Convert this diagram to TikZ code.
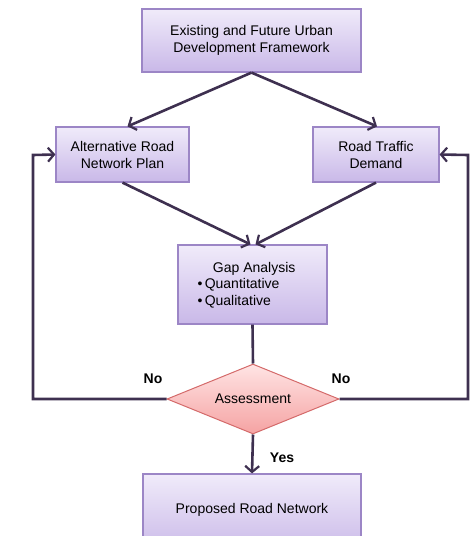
\documentclass[tikz,border=0pt]{standalone}
\usepackage{fontspec}
\setmainfont{Liberation Sans}
\usetikzlibrary{shapes.geometric,arrows.meta}
\definecolor{boxtop}{HTML}{F0EBFA}
\definecolor{boxbot}{HTML}{C9B8E8}
\definecolor{boxedge}{HTML}{9C86C6}
\definecolor{dtop}{HTML}{FFE4E4}
\definecolor{dbot}{HTML}{F5A3A3}
\definecolor{dedge}{HTML}{D46A6A}
\definecolor{flow}{HTML}{3E3050}
\tikzset{
  procbox/.style={draw=boxedge, line width=1.2pt, top color=boxtop, bottom color=boxbot,
    inner sep=0pt, align=center, font=\fontsize{14}{17}\selectfont},
  decision/.style={diamond, draw=dedge, line width=1pt, top color=dtop, bottom color=dbot,
    inner sep=0pt, aspect=2.46, font=\fontsize{14}{17}\selectfont},
  link/.style={draw=flow, line width=2.6pt, -{Straight Barb[length=6pt,width=14pt,line width=2.2pt]}},
  plainlink/.style={draw=flow, line width=2.6pt},
  answer/.style={font=\fontsize{14}{17}\bfseries\selectfont}
}
\begin{document}
\begin{tikzpicture}[x=1pt,y=-1pt]
\useasboundingbox (0,0) rectangle (471,536);
% process boxes
\node[procbox, minimum width=219, minimum height=63] (frame) at (251.5,40.5)
  {Existing and Future Urban\\Development Framework};
\node[procbox, minimum width=133, minimum height=55] (alt) at (122.5,154.5)
  {Alternative Road\\Network Plan};
\node[procbox, minimum width=126, minimum height=55] (demand) at (376,154.5)
  {Road Traffic\\Demand};
\node[procbox, minimum width=149, minimum height=79] (gap) at (252.5,284.5) {};
\node[anchor=west, align=left, font=\fontsize{14}{16.5}\selectfont] (gaptxt) at (194,285)
  {\hspace*{1.1em}Gap Analysis\\\textbullet\,Quantitative\\\textbullet\,Qualitative};
\node[procbox, minimum width=218, minimum height=80] (result) at (252,514)
  {\raisebox{12pt}{Proposed Road Network}};
% decision
\node[decision, minimum width=172, minimum height=70] (assess) at (253,399) {Assessment};
% return paths
\coordinate (lturn) at (33,399);
\coordinate (ltop) at (33,155);
\coordinate (rturn) at (468,399);
\coordinate (rtop) at (468,155);
% connectors
\draw[link] (frame.south) -- ([xshift=5pt]alt.north);
\draw[link] (frame.south) -- ([xshift=1pt]demand.north);
\draw[link] (alt.south) -- ([xshift=-2pt]gap.north);
\draw[link] (demand.south) -- ([xshift=3pt]gap.north);
\draw[plainlink] (gap.south) -- (assess.north);
\draw[link] (assess.south) -- (result.north);
\draw[link] (assess.west) -- (lturn) -- (ltop) -- (alt.west);
\draw[link] (assess.east) -- (rturn) -- (rtop) -- (demand.east);
% labels
\node[answer] (noleft) at (153,379) {No};
\node[answer] (noright) at (341,379) {No};
\node[answer] (yes) at (282,458) {Yes};
\end{tikzpicture}
\end{document}
